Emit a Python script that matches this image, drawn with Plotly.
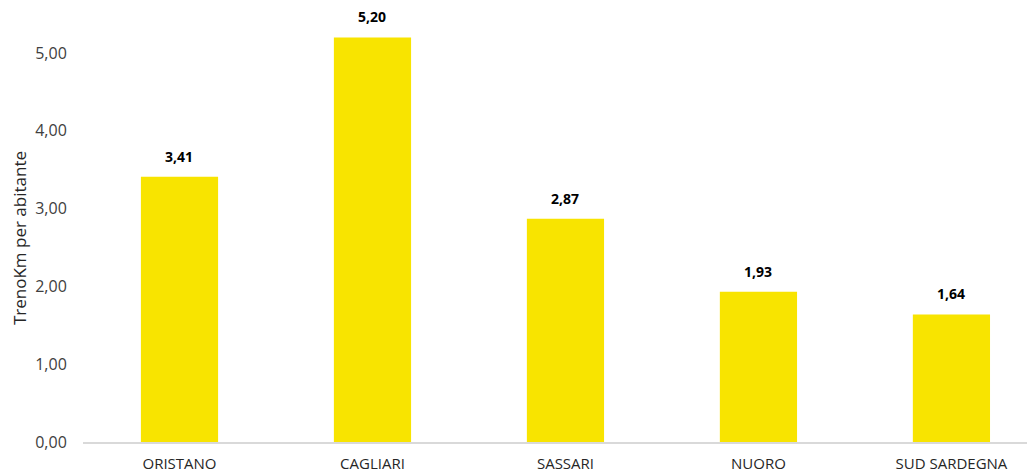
import plotly.graph_objects as go

categories = ["ORISTANO", "CAGLIARI", "SASSARI", "NUORO", "SUD SARDEGNA"]
values = [3.41, 5.20, 2.87, 1.93, 1.64]
y_ticks = [0, 1, 2, 3, 4, 5]
y_tick_labels = ["0,00", "1,00", "2,00", "3,00", "4,00", "5,00"]
y_title = "TrenoKm per abitante"

fig = go.Figure(go.Bar(
    x=categories, y=values, width=0.4,
    marker=dict(color="#F8E400", line=dict(width=0)),
    hoverinfo="x+y",
))

for c, v in zip(categories, values):
    fig.add_annotation(
        x=c, y=v, text=f"<b>{v:.2f}</b>".replace(".", ","),
        showarrow=False, yanchor="bottom", yshift=9,
        font=dict(family="Open Sans", size=14, color="#000000"),
    )

fig.add_annotation(
    xref="paper", yref="paper", x=-0.0672, y=0.47,
    text=y_title, textangle=-90, showarrow=False,
    xanchor="center", yanchor="middle",
    font=dict(family="Open Sans", size=17, color="#262626"),
)

fig.update_layout(
    width=1027, height=464,
    margin=dict(l=75, r=0, t=0, b=30),
    paper_bgcolor="white", plot_bgcolor="white",
    showlegend=False,
    font=dict(family="Open Sans", color="#404040"),
    xaxis=dict(
        range=[-0.5, 4.433], showline=True, linecolor="#d9d9d9", linewidth=1.5,
        showgrid=False, ticks="outside", ticklen=7, tickcolor="rgba(0,0,0,0)",
        tickfont=dict(size=15, color="#262626"),
        automargin=False,
    ),
    yaxis=dict(
        range=[0, 5.578], showgrid=False, zeroline=False, showline=False,
        tickmode="array", tickvals=y_ticks, ticktext=y_tick_labels,
        ticks="outside", ticklen=12, tickcolor="rgba(0,0,0,0)",
        tickfont=dict(size=16, color="#404040"),
        automargin=False,
    ),
)

fig.write_html("out.html")
